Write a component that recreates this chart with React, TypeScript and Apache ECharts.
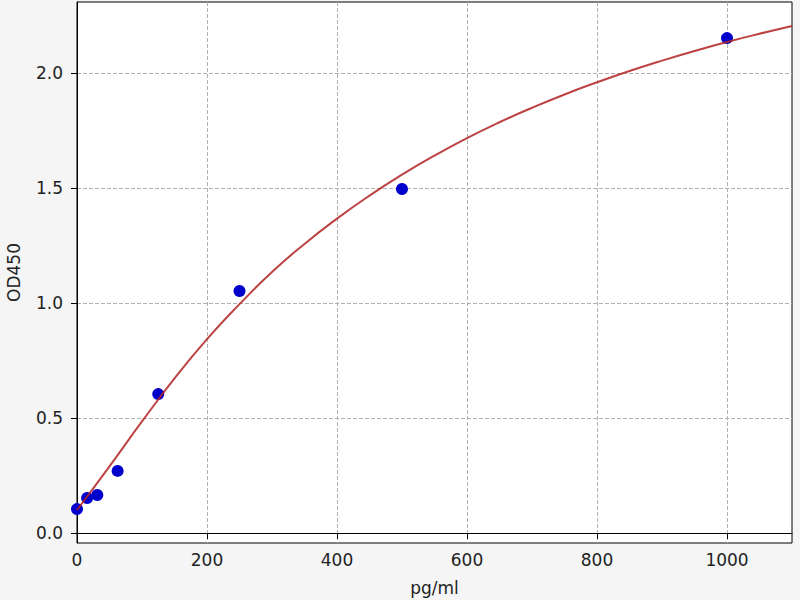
import { useEffect, useRef } from "react";
import * as echarts from "echarts";

// standard points (concentration pg/ml, OD450)
const standardConc = [0, 15.625, 31.25, 62.5, 125, 250, 500, 1000];
const standardOD = [0.104, 0.152, 0.165, 0.27, 0.604, 1.052, 1.496, 2.152];

// fitted curve, every 50 pg/ml
const curveConc = [0, 50, 100, 150, 200, 250, 300, 350, 400, 450, 500, 550, 600, 650, 700, 750, 800, 850, 900, 950, 1000, 1050, 1100];
const curveOD = [0.1, 0.29, 0.485, 0.672, 0.843, 0.995, 1.135, 1.257, 1.367, 1.467, 1.558, 1.641, 1.717, 1.786, 1.849, 1.907, 1.96, 2.009, 2.054, 2.096, 2.135, 2.171, 2.205];

const xTicks = [0, 200, 400, 600, 800, 1000];
const yTicks = [0, 0.5, 1.0, 1.5, 2.0];

const font = "DejaVu Sans";

export default function App() {
    const chartRef = useRef<HTMLDivElement | null>(null);

    useEffect(() => {
        if (!chartRef.current) return;
        const chart = echarts.init(chartRef.current, null, { renderer: "svg" });

        const option: any = {
            animation: false,
            backgroundColor: "#f5f5f5",
            grid: {
                left: 77,
                right: 8,
                top: 2,
                bottom: 57,
                containLabel: false,
                outerBoundsMode: "none",
                show: true,
                backgroundColor: "#ffffff",
                borderColor: "#000000",
                borderWidth: 1,
            },
            xAxis: {
                type: "value",
                min: 0,
                max: 1100,
                name: "pg/ml",
                nameLocation: "middle",
                nameGap: 36,
                nameTextStyle: { fontFamily: font, fontSize: 17, color: "#222" },
                axisLine: { show: true, lineStyle: { color: "#000" } },
                axisTick: { show: true, length: 6, customValues: xTicks, lineStyle: { color: "#000" } },
                axisLabel: {
                    customValues: xTicks,
                    margin: 8,
                    fontFamily: font,
                    fontSize: 17,
                    color: "#222",
                    formatter: (v: number) => String(v),
                },
                splitLine: { show: true, lineStyle: { color: "#b0b0b0", type: [4, 2], width: 1 } },
            },
            yAxis: {
                type: "value",
                min: -0.0435,
                max: 2.309,
                minInterval: 0.5,
                maxInterval: 0.5,
                name: "OD450",
                nameLocation: "middle",
                nameGap: 55,
                nameTextStyle: { fontFamily: font, fontSize: 17, color: "#222" },
                axisLine: { show: true, lineStyle: { color: "#000" } },
                axisTick: { show: true, length: 6, customValues: yTicks, lineStyle: { color: "#000" } },
                axisLabel: {
                    customValues: yTicks,
                    margin: 14,
                    fontFamily: font,
                    fontSize: 17,
                    color: "#222",
                    formatter: (v: number) => v.toFixed(1),
                },
                splitLine: { show: true, lineStyle: { color: "#b0b0b0", type: [4, 2], width: 1 } },
            },
            series: [
                {
                    name: "Standards",
                    type: "scatter",
                    symbol: "circle",
                    symbolSize: 12,
                    z: 2,
                    itemStyle: { color: "#0000cc", opacity: 1 },
                    data: standardConc.map((c, i) => [c, standardOD[i]]),
                },
                {
                    name: "Fit",
                    type: "line",
                    smooth: true,
                    showSymbol: false,
                    z: 3,
                    lineStyle: { color: "#b22222", width: 2, opacity: 0.85 },
                    data: curveConc.map((c, i) => [c, curveOD[i]]),
                },
            ],
        };

        chart.setOption(option);

        return () => {
            chart.dispose();
        };
    }, []);

    return (
        <div
            ref={chartRef}
            style={{ position: "absolute", left: 0, top: 0, width: "800px", height: "600px" }}
        />
    );
}
